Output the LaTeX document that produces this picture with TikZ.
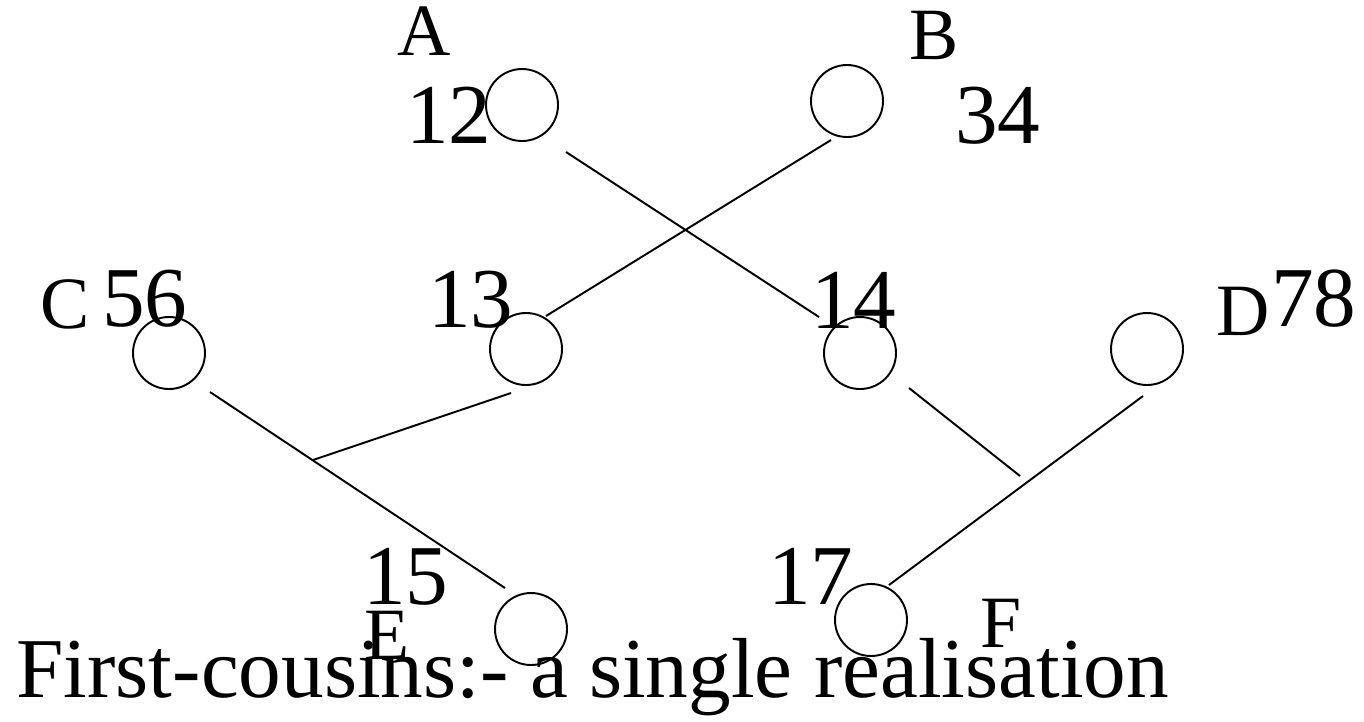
\documentclass[tikz,border=0pt]{standalone}
\usepackage{fontspec}
\setmainfont{Liberation Serif}
\begin{document}
\begin{tikzpicture}[x=0.02cm,y=-0.02cm,
  person/.style={draw,circle,minimum size=72*0.02cm,inner sep=0pt,line width=1.1pt},
  link/.style={line width=1.1pt},
  letterlab/.style={anchor=base west,inner sep=0pt,font=\fontsize{42}{48}\selectfont},
  numlab/.style={anchor=base west,inner sep=0pt,font=\fontsize{48.5}{56}\selectfont},
  titlelab/.style={anchor=base west,inner sep=0pt,font=\fontsize{48.5}{56}\selectfont}]
\useasboundingbox (0,0) rectangle (1364,721);
% individuals
\node[person] (A) at (522,105) {};
\node[person] (B) at (847,101) {};
\node[person] (C) at (169,353) {};
\node[person] (P13) at (526,349) {};
\node[person] (P14) at (860,353) {};
\node[person] (D) at (1147,349) {};
\node[person] (E) at (531,629) {};
\node[person] (F) at (871,620) {};
% labels
\node[letterlab] (lA) at (397,55) {A};
\node[letterlab] (lB) at (909,59) {B};
\node[numlab] (n12) at (406,143) {12};
\node[numlab] (n34) at (955,143) {34};
\node[letterlab] (lC) at (40,328) {C};
\node[numlab] (n56) at (102,326) {56};
\node[numlab] (n13) at (428,327) {13};
\node[numlab] (n14) at (811,328) {14};
\node[letterlab] (lD) at (1216,335) {D};
\node[numlab] (n78) at (1271,326) {78};
\node[numlab] (n15) at (363,604) {15};
\node[letterlab] (lE) at (364,659) {E};
\node[numlab] (n17) at (768,604) {17};
\node[letterlab] (lF) at (980,647) {F};
\node[titlelab] (title) at (16,697) {First-cousins:- a single realisation};
% connector end points
\coordinate (a1) at (566,152);
\coordinate (a2) at (819,317);
\coordinate (b1) at (831,140);
\coordinate (b2) at (546,316);
\coordinate (c1) at (210,392);
\coordinate (c2) at (505,588);
\coordinate (j1) at (313,460);
\coordinate (t1) at (511,393);
\coordinate (f1) at (909,388);
\coordinate (j2) at (1020,476);
\coordinate (d1) at (1143,396);
\coordinate (d2) at (889,585);
% connectors
\draw[link] (a1) -- (a2);
\draw[link] (b1) -- (b2);
\draw[link] (c1) -- (c2);
\draw[link] (t1) -- (j1);
\draw[link] (f1) -- (j2);
\draw[link] (d1) -- (d2);
\end{tikzpicture}
\end{document}
